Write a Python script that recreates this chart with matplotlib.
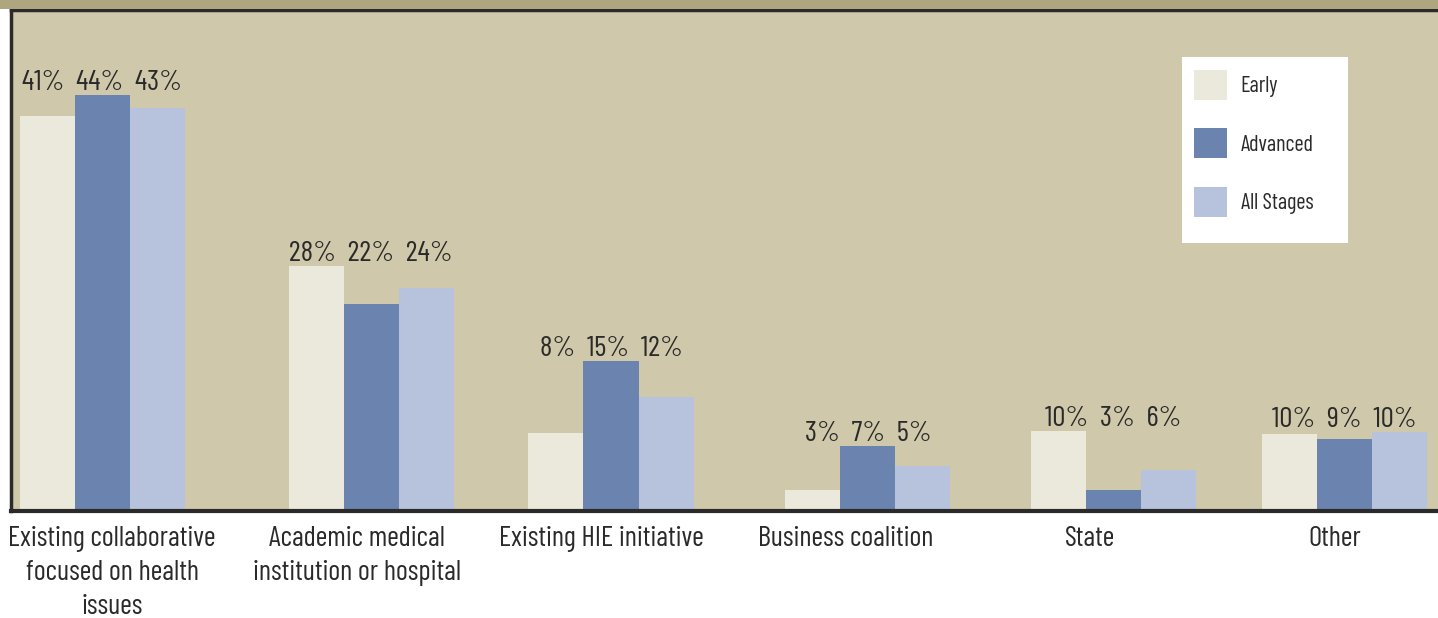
import matplotlib
matplotlib.use('Agg')
import matplotlib.pyplot as plt
from matplotlib.patches import Rectangle, Patch

plt.rcParams['font.family'] = ['Barlow Condensed', 'DejaVu Sans']

categories = ['Existing collaborative\nfocused on health\nissues',
              'Academic medical\ninstitution or hospital',
              'Existing HIE initiative', 'Business coalition', 'State', 'Other']
series = ['Early', 'Advanced', 'All Stages']
# bar heights as drawn in the picture
early = [41.8, 25.9, 8.3, 2.2, 8.5, 8.1]
advanced = [44.0, 21.9, 15.9, 6.9, 2.2, 7.6]
all_stages = [42.6, 23.6, 12.1, 4.8, 4.3, 8.4]
# printed labels
early_lbl = ['41%', '28%', '8%', '3%', '10%', '10%']
advanced_lbl = ['44%', '22%', '15%', '7%', '3%', '9%']
all_lbl = ['43%', '24%', '12%', '5%', '6%', '10%']

colors = ['#EBE8DC', '#6B83AF', '#B7C3DC']
bg = '#CFC8AA'
dark = '#2a2a2a'

group_shift = [-0.04, 0.06, 0.04, 0.09, 0.094, 0.037]
w = 0.225

fig = plt.figure(figsize=(14.38, 6.18), dpi=100)
fig.patch.set_facecolor('white')
fig.patches.append(Rectangle((0, 1 - 9 / 618), 1, 9 / 618, transform=fig.transFigure,
                             facecolor='#AEA67E', edgecolor='none'))
# axes runs a little past the right edge so no border shows there
ax = fig.add_axes([11 / 1438, 107 / 618, 1 - 11 / 1438 + 4 / 1438, 1 - 117 / 618])
ax.set_facecolor(bg)

vals = [early, advanced, all_stages]
for i in range(len(categories)):
    c = i + group_shift[i]
    for j in range(3):
        ax.bar(c + (j - 1) * w, vals[j][i], width=w, color=colors[j], linewidth=0)
    top = max(v[i] for v in vals)
    txt = '  '.join([early_lbl[i], advanced_lbl[i], all_lbl[i]])
    ax.text(c, top + 0.5, txt, ha='center', va='baseline', fontsize=21, color=dark)

ax.set_xlim(-0.413, 5.421 + 4 / 244.6)
ax.set_ylim(0, 53)
ax.set_xticks(range(len(categories)))
ax.set_xticklabels(categories, fontsize=20.5, color=dark, linespacing=1.4)
ax.tick_params(axis='x', length=0, pad=11)
ax.set_yticks([])
for s in ['left', 'top', 'bottom']:
    ax.spines[s].set_color(dark)
ax.spines['left'].set_linewidth(2.5)
ax.spines['top'].set_linewidth(2.5)
ax.spines['bottom'].set_linewidth(3)
ax.spines['right'].set_visible(False)

# white legend box
ax.add_patch(Rectangle((1182 / 1438, 1 - 243 / 618), 166 / 1438, 186 / 618,
                       transform=fig.transFigure, facecolor='white',
                       edgecolor='none', zorder=4, clip_on=False))
handles = [Patch(facecolor=colors[k], edgecolor='none') for k in range(3)]
leg = ax.legend(handles, series, loc='upper left', bbox_to_anchor=(1194 / 1438, 1 - 70 / 618),
                bbox_transform=fig.transFigure, frameon=False,
                fontsize=16, handlelength=1.5, handleheight=1.7, labelspacing=1.28,
                borderpad=0, handletextpad=0.6, borderaxespad=0)
leg.set_zorder(5)
for t in leg.get_texts():
    t.set_color(dark)

fig.savefig('out.png', dpi=100, facecolor='white')
